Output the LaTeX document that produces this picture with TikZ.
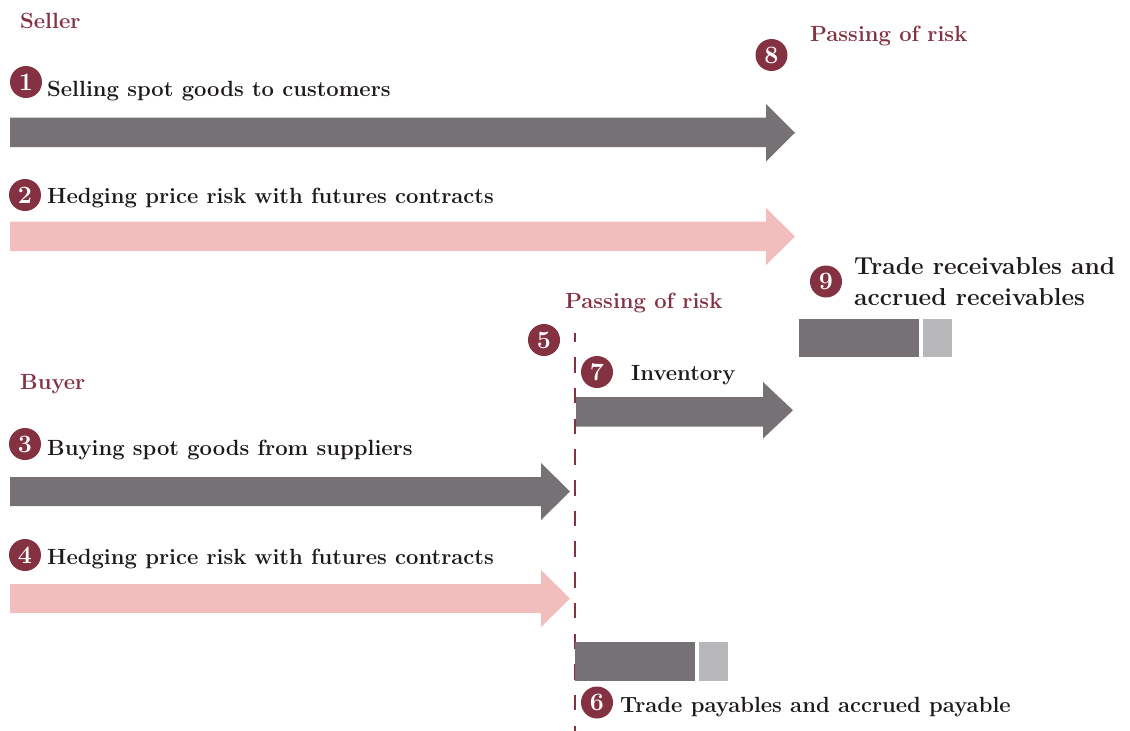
\documentclass[tikz,border=0pt]{standalone}
\usepackage{tikz}
\definecolor{maroon}{HTML}{843242}
\definecolor{slate}{HTML}{767175}
\definecolor{blush}{HTML}{F2BDBD}
\definecolor{silver}{HTML}{B7B7B9}
\definecolor{ink}{HTML}{1E1A1B}
\tikzset{
  badge/.style={circle, fill=maroon, text=white, minimum size=32pt, inner sep=0pt,
    font=\fontsize{25}{25}\selectfont\bfseries},
  label/.style={anchor=base west, inner sep=0pt, text=ink,
    font=\fontsize{22}{24}\selectfont\bfseries},
  heading/.style={anchor=base west, inner sep=0pt, text=maroon,
    font=\fontsize{22}{24}\selectfont\bfseries},
  riskline/.style={draw=maroon, line width=2.3pt, dash pattern=on 15.5pt off 15.2pt, dash phase=6.5pt},
}
% block arrow: #1 colour, #2 left x, #3 shaft top, #4 shaft bottom,
% #5 head start x, #6 head top, #7 head bottom, #8 tip x
\newcommand{\blockarrow}[8]{%
  \fill[#1] (#2,#3) -- (#5,#3) -- (#5,#6) -- (#8,{(#6+#7)/2}) -- (#5,#7) -- (#5,#4) -- (#2,#4) -- cycle;}
\begin{document}
\begin{tikzpicture}[x=1pt,y=-1pt]
\useasboundingbox (0,0) rectangle (1130,731);

% seller side
\node[heading] (seller) at (20,28) {Seller};
\node[badge] (b1) at (26,82) {1};
\node[label] (t1) at (47,96) {Selling spot goods to customers};
\blockarrow{slate}{10}{117.5}{147}{766}{104}{161.5}{795}
\node[badge] (b2) at (25,195) {2};
\node[label] (t2) at (47,203) {Hedging price risk with futures contracts};
\blockarrow{blush}{10}{221.5}{251}{766}{208}{265}{795}

\node[badge] (b8) at (771.5,55) {8};
\node[heading] (risk8) at (810,41) {Passing of risk};

\node[badge] (b9) at (826,281.5) {9};
\node[label, font=\fontsize{24.5}{31}\selectfont\bfseries, align=left, anchor=north west]
  (t9) at (854,257) {Trade receivables and\\accrued receivables};
\fill[slate] (799,319) rectangle (919,357);
\fill[silver] (923,319) rectangle (952,357);

% passing of risk for the buyer
\node[heading] (risk5) at (565,308) {Passing of risk};
\node[badge] (b5) at (544,340) {5};
\coordinate (rtop) at (575,333);
\coordinate (rbot) at (575,731);
\draw[riskline] (rtop) -- (rbot);

\node[badge] (b7) at (597,372) {7};
\node[label] (t7) at (631,380) {Inventory};
\blockarrow{slate}{576}{397}{426.5}{763}{382}{438.5}{793}

% buyer side
\node[heading] (buyer) at (20,389) {Buyer};
\node[badge] (b3) at (25,444) {3};
\node[label] (t3) at (47,455) {Buying spot goods from suppliers};
\blockarrow{slate}{10}{477}{506}{541}{463}{520}{570}
\node[badge] (b4) at (25,555) {4};
\node[label] (t4) at (47,564) {Hedging price risk with futures contracts};
\blockarrow{blush}{10}{584}{613}{541}{570}{627}{570}

\fill[slate] (575,642) rectangle (695,681);
\fill[silver] (699,642) rectangle (728,681);
\node[badge] (b6) at (597,702.5) {6};
\node[label] (t6) at (620,712) {Trade payables and accrued payable};
\end{tikzpicture}
\end{document}
